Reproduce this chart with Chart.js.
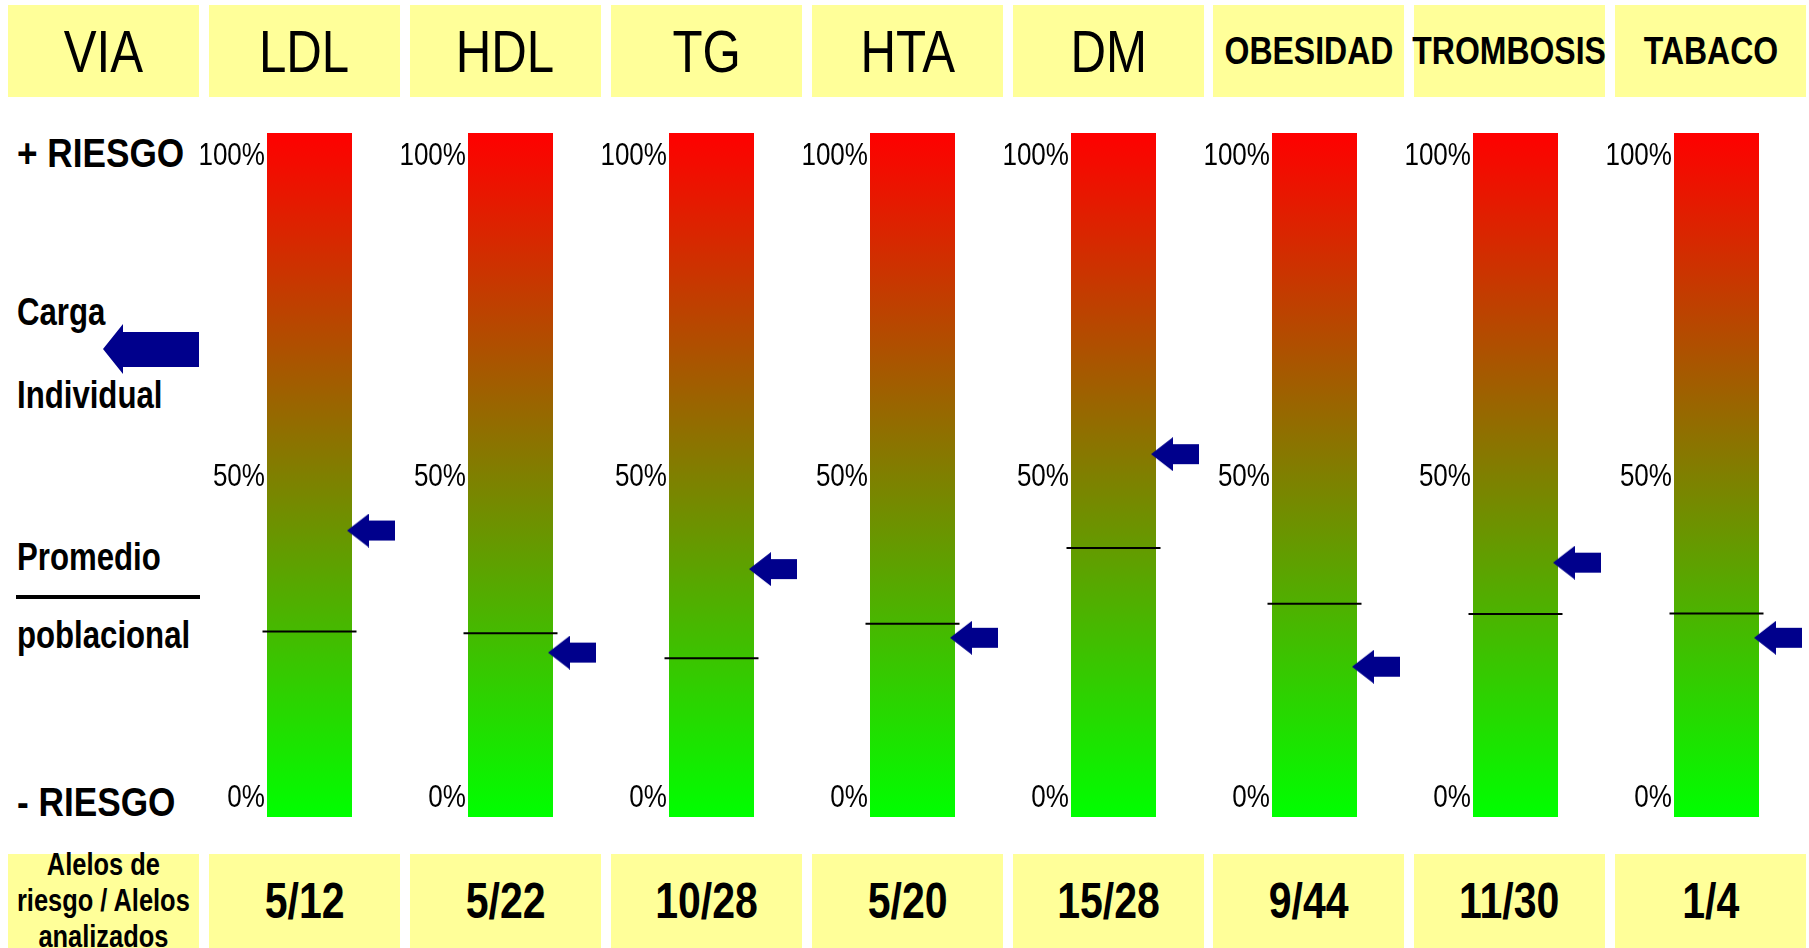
<!DOCTYPE html>
<html>
<head>
<meta charset="utf-8">
<script src="https://cdn.jsdelivr.net/npm/chart.js@4.4.1/dist/chart.umd.min.js"></script>
<style>
  body { margin: 0; background: #fff; }
  #page {
    position: relative; width: 1809px; height: 948px; overflow: hidden;
    font-family: 'Liberation Sans', Arial, sans-serif;
    color: #000;
  }
  .box {
    position: absolute; background: #ffff99;
    display: flex; align-items: center; justify-content: center;
    text-align: center; white-space: nowrap; overflow: visible;
  }
  /* no narrow face installed: squeeze Liberation Sans to Arial Narrow proportions */
  .n { display: inline-block; transform: scaleX(0.82); transform-origin: 50% 50%; }
  .lbl {
    position: absolute; left: 17px; font-weight: bold; font-size: 38px; line-height: 38px;
    white-space: nowrap; transform: scaleX(0.82); transform-origin: 0 50%;
  }
  .big { font-size: 40px; line-height: 40px; transform: scaleX(0.88); }
  .col { position: absolute; top: 0; }
</style>
</head>
<body>
<div id="page">
  <div class="lbl big" style="top:133px">+ RIESGO</div>
  <div class="lbl" style="top:293px">Carga</div>
  <div class="lbl" style="top:376px">Individual</div>
  <div class="lbl" style="top:538px">Promedio</div>
  <div style="position:absolute;left:16px;top:595px;width:184px;height:4px;background:#000"></div>
  <div class="lbl" style="top:616px">poblacional</div>
  <div class="lbl big" style="top:782px">- RIESGO</div>
  <svg style="position:absolute;left:100px;top:322px" width="102" height="54">
    <polygon points="3,27 23,2 23,10 99,10 99,45 23,45 23,52" fill="#00008c"/>
  </svg>
</div>
<script>
// columns (genetic pathways)
var categories = ['LDL', 'HDL', 'TG', 'HTA', 'DM', 'OBESIDAD', 'TROMBOSIS', 'TABACO'];
// risk alleles / analyzed alleles, as printed in the bottom row
var alleleRatio = ['5/12', '5/22', '10/28', '5/20', '15/28', '9/44', '11/30', '1/4'];
// individual load (blue arrows), %
var individualLoad = [41.7, 22.7, 35.7, 25.0, 53.6, 20.5, 36.7, 25.0];
// population average (black lines), %
var populationMean = [26.0, 25.7, 21.8, 27.2, 39.0, 30.3, 28.7, 28.8];
// y tick labels
var tickValues = [0, 50, 100];

var yMin = -2.9, yMax = 103.6;
var fontFamily = "'Liberation Sans', Arial, sans-serif";
var page = document.getElementById('page');
var pitch = 200.9;

function addBox(left, top, w, h, html, css) {
  var d = document.createElement('div');
  d.className = 'box';
  d.style.left = left + 'px'; d.style.top = top + 'px';
  d.style.width = w + 'px'; d.style.height = h + 'px';
  d.style.cssText += css;
  d.innerHTML = '<span class="n">' + html + '</span>';
  page.appendChild(d);
}

// header and footer rows
var headers = ['VIA'].concat(categories);
headers.forEach(function (name, j) {
  var left = Math.round(8 + pitch * j);
  var css = name.length > 4 ? 'font-weight:bold;font-size:39px;' : 'font-size:60px;';
  addBox(left, 5, 191, 92, name, css);
  var foot = j === 0
    ? '<div style="font-weight:bold;font-size:31px;line-height:36px">Alelos de<br>riesgo / Alelos<br>analizados</div>'
    : alleleRatio[j - 1];
  addBox(left, 854, 191, 94, foot, 'font-weight:bold;font-size:50px;');
});

// arrow marker image, tip sits just inside the bar's right edge
var arrowImg = document.createElement('canvas');
arrowImg.width = 171; arrowImg.height = 34;
(function () {
  var c = arrowImg.getContext('2d');
  c.fillStyle = '#00008c';
  c.beginPath();
  c.moveTo(123, 17); c.lineTo(145, 0); c.lineTo(145, 7); c.lineTo(171, 7);
  c.lineTo(171, 27); c.lineTo(145, 27); c.lineTo(145, 34);
  c.closePath(); c.fill();
})();

function riskGradient(ctx) {
  var area = ctx.chart.chartArea;
  if (!area) return '#808000';
  var g = ctx.chart.ctx.createLinearGradient(0, area.top, 0, area.bottom);
  g.addColorStop(0, '#ff0000');
  g.addColorStop(1, '#00ff00');
  return g;
}

// y tick labels drawn condensed, at the y scale's own tick positions
var narrowTicks = {
  id: 'narrowTicks',
  afterDraw: function (chart) {
    var s = chart.scales.y, c = chart.ctx;
    c.save();
    c.font = '31px ' + fontFamily;
    c.fillStyle = '#000';
    c.textAlign = 'right';
    c.textBaseline = 'middle';
    s.ticks.forEach(function (t) {
      c.save();
      c.translate(s.right - 2, s.getPixelForValue(t.value));
      c.scale(0.84, 1);
      c.fillText(t.value + '%', 0, 0);
      c.restore();
    });
    c.restore();
  }
};

categories.forEach(function (name, i) {
  var barLeft = Math.round(267.3 + pitch * i);
  var wrap = document.createElement('div');
  wrap.className = 'col';
  wrap.style.left = (barLeft - 70) + 'px';
  var cv = document.createElement('canvas');
  cv.width = 215; cv.height = 948;
  wrap.appendChild(cv);
  page.appendChild(wrap);

  new Chart(cv, {
    type: 'bar',
    data: {
      labels: [name],
      datasets: [
        {
          type: 'line', data: [individualLoad[i]], showLine: false,
          pointStyle: arrowImg, pointRadius: 10, order: 1, clip: false
        },
        {
          type: 'line', data: [populationMean[i]], showLine: false,
          pointStyle: 'line', pointRadius: 47, pointBorderColor: '#000',
          pointBorderWidth: 2, order: 2, clip: false
        },
        {
          data: [[yMin, yMax]], backgroundColor: riskGradient,
          barPercentage: 1, categoryPercentage: 1, order: 3
        }
      ]
    },
    options: {
      responsive: false,
      animation: false,
      events: [],
      layout: { padding: { top: 133, bottom: 131, left: 0, right: 60 } },
      plugins: { legend: { display: false }, tooltip: { enabled: false } },
      scales: {
        x: { display: false },
        y: {
          min: yMin, max: yMax,
          afterFit: function (s) { s.width = 70; },
          afterBuildTicks: function (s) { s.ticks = tickValues.map(function (v) { return { value: v }; }); },
          ticks: { display: false },
          grid: { display: false, drawTicks: false },
          border: { display: false }
        }
      }
    },
    plugins: [narrowTicks]
  });
});
</script>
</body>
</html>
